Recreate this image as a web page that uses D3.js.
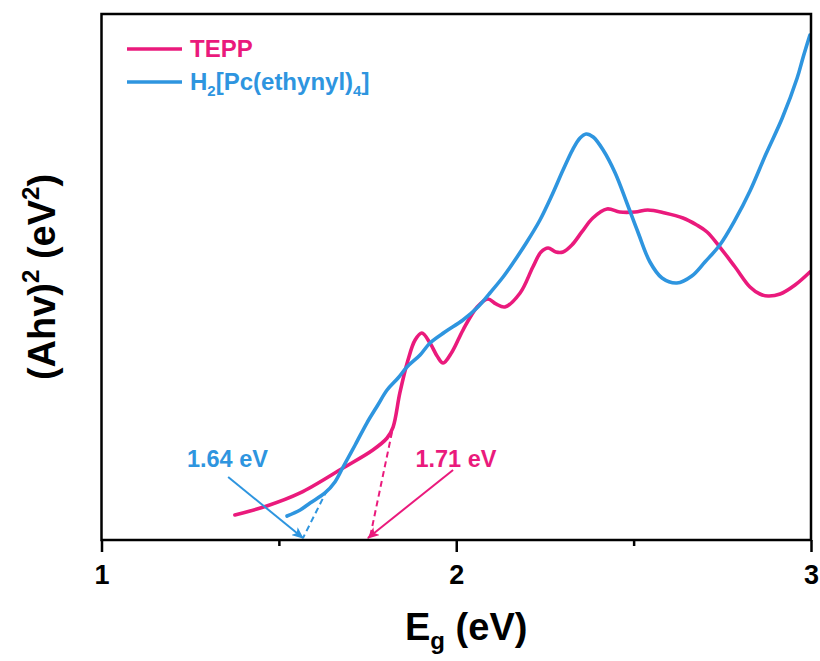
<!DOCTYPE html>
<html><head><meta charset="utf-8">
<script src="https://cdn.jsdelivr.net/npm/d3@7"></script>
<style>body{margin:0;background:#fff}svg{display:block}text{font-family:"Liberation Sans",Arial,sans-serif;font-weight:bold}</style>
</head><body>
<svg id="c" width="820" height="661"></svg>
<script>
const teppX=[1.376,1.466,1.560,1.681,1.765,1.805,1.822,1.841,1.864,1.884,1.903,1.926,1.946,1.963,1.988,2.019,2.059,2.089,2.112,2.137,2.180,2.216,2.239,2.259,2.281,2.301,2.326,2.354,2.385,2.425,2.461,2.504,2.540,2.588,2.639,2.678,2.707,2.743,2.786,2.828,2.856,2.879,2.913,2.955,2.997];
const teppY=[4.75,6.46,8.94,13.69,17.11,19.39,21.48,27.95,34.22,38.02,39.35,37.45,34.98,33.65,35.74,39.92,44.30,45.82,44.87,44.30,46.96,51.90,54.75,55.51,54.75,54.75,56.08,58.56,61.22,62.93,62.36,62.36,62.74,62.17,61.22,59.89,58.56,55.70,51.90,48.10,46.77,46.39,46.77,48.48,50.95];
const pcX=[1.523,1.560,1.588,1.630,1.658,1.681,1.715,1.748,1.779,1.805,1.836,1.861,1.898,1.926,1.968,2.019,2.061,2.095,2.132,2.160,2.199,2.236,2.270,2.301,2.329,2.349,2.366,2.386,2.414,2.448,2.481,2.512,2.546,2.580,2.622,2.664,2.701,2.743,2.786,2.828,2.873,2.919,2.961,2.978,2.997];
const pcY=[4.56,5.70,7.03,8.94,11.03,13.88,18.06,22.24,25.67,28.52,30.80,32.89,35.17,37.45,39.54,41.83,44.30,46.96,50.00,52.66,56.65,60.84,65.59,70.34,74.33,76.43,77.19,76.62,74.14,69.77,64.07,58.56,52.85,49.81,48.86,50.19,52.85,56.08,60.84,66.35,73.38,80.23,87.83,91.83,96.01];
const xTicks=[1,2,3];
const xMinor=[1.5,2.5];
const seriesNames=["TEPP","H2[Pc(ethynyl)4]"];
const colors=["#EA1A7C","#2E95DF"];
// tangent (dashed) lines: [x0,y0,x1,y1]
const tangentPc=[1.636,9.51,1.568,0.38];
const tangentTepp=[1.819,20.53,1.757,0.57];
// annotation arrows: [x0,y0,x1,y1]
const arrowPc=[1.357,11.98,1.568,0.38];
const arrowTepp=[1.991,13.31,1.751,0.38];
const labelTexts=["1.64 eV","1.71 eV"];
const labelPos=[[1.355,13.9],[1.999,13.9]];

const svg=d3.select("#c");
const L=101.5,R=811,T=14,B=540;
const x=d3.scaleLinear().domain([1,3]).range([L,R]);
const y=d3.scaleLinear().domain([0,100]).range([B,T]);

const defs=svg.append("defs");
colors.forEach((c,i)=>{
  defs.append("marker").attr("id","ah"+i).attr("viewBox","0 0 12 10").attr("refX",11).attr("refY",5)
    .attr("markerWidth",12).attr("markerHeight",10).attr("markerUnits","userSpaceOnUse").attr("orient","auto")
    .append("path").attr("d","M0,0 L12,5 L0,10 L3,5 Z").attr("fill",c);
});

const line=d3.line().x(d=>x(d[0])).y(d=>y(d[1])).curve(d3.curveCatmullRom.alpha(0.5));
const tepp=teppX.map((v,i)=>[v,teppY[i]]);
const pc=pcX.map((v,i)=>[v,pcY[i]]);

// tangents
[[tangentPc,1],[tangentTepp,0]].forEach(([t,i])=>{
  svg.append("line").attr("x1",x(t[0])).attr("y1",y(t[1])).attr("x2",x(t[2])).attr("y2",y(t[3]))
   .attr("stroke",colors[i]).attr("stroke-width",2).attr("stroke-dasharray","6,4");
});
svg.append("path").datum(tepp).attr("d",line).attr("fill","none").attr("stroke",colors[0]).attr("stroke-width",3.6).attr("stroke-linecap","round");
svg.append("path").datum(pc).attr("d",line).attr("fill","none").attr("stroke",colors[1]).attr("stroke-width",3.6).attr("stroke-linecap","round");

// arrows
[[arrowPc,1],[arrowTepp,0]].forEach(([a,i])=>{
  svg.append("line").attr("x1",x(a[0])).attr("y1",y(a[1])).attr("x2",x(a[2])).attr("y2",y(a[3]))
   .attr("stroke",colors[i]).attr("stroke-width",2).attr("marker-end","url(#ah"+i+")");
});
labelTexts.forEach((t,k)=>{
  const ci=k===0?1:0;
  svg.append("text").attr("x",x(labelPos[k][0])).attr("y",y(labelPos[k][1])).attr("text-anchor","middle")
    .attr("font-size",23.5).attr("fill",colors[ci]).text(t);
});

// frame
svg.append("rect").attr("x",L).attr("y",T).attr("width",R-L).attr("height",B-T).attr("fill","none").attr("stroke","#000").attr("stroke-width",2.5);

// x axis
const ax=svg.append("g").attr("transform",`translate(0,${B})`).call(d3.axisBottom(x).tickValues(xTicks).tickSize(12).tickFormat(d3.format("d")));
ax.select(".domain").remove();
ax.selectAll(".tick line").attr("stroke","#000").attr("stroke-width",2.5);
ax.selectAll(".tick text").attr("font-size",27).attr("font-family","Liberation Sans, Arial").attr("font-weight","bold").attr("fill","#000").attr("dy","0").attr("y",44);
const axm=svg.append("g").attr("transform",`translate(0,${B})`).call(d3.axisBottom(x).tickValues(xMinor).tickSize(6).tickFormat(""));
axm.select(".domain").remove();
axm.selectAll(".tick line").attr("stroke","#000").attr("stroke-width",2.5);

// axis titles
const xt=svg.append("text").attr("x",405).attr("y",640).attr("font-size",38).attr("fill","#000");
xt.append("tspan").text("E");
xt.append("tspan").attr("font-size",24).attr("dy",9).text("g");
xt.append("tspan").attr("dy",-9).text(" (eV)");

const yt=svg.append("text").attr("transform","translate(55,277) rotate(-90)").attr("text-anchor","middle").attr("font-size",38).attr("fill","#000");
yt.append("tspan").text("(Ahv)");
yt.append("tspan").attr("font-size",24).attr("dy",-16).text("2");
yt.append("tspan").attr("dy",16).text(" (eV");
yt.append("tspan").attr("font-size",24).attr("dy",-16).text("2");
yt.append("tspan").attr("dy",16).text(")");

// legend
seriesNames.forEach((n,i)=>{
  const ly=[49,82][i];
  svg.append("line").attr("x1",127).attr("x2",182).attr("y1",ly).attr("y2",ly).attr("stroke",colors[i]).attr("stroke-width",3.6);
  const t=svg.append("text").attr("x",190).attr("y",ly+8).attr("font-size",24).attr("fill",colors[i]);
  if(i===0){t.text(n);}else{
    t.append("tspan").text("H");
    t.append("tspan").attr("font-size",15).attr("dy",6).text("2");
    t.append("tspan").attr("dy",-6).text("[Pc(ethynyl)");
    t.append("tspan").attr("font-size",15).attr("dy",6).text("4");
    t.append("tspan").attr("dy",-6).text("]");
  }
});
</script>
</body></html>
